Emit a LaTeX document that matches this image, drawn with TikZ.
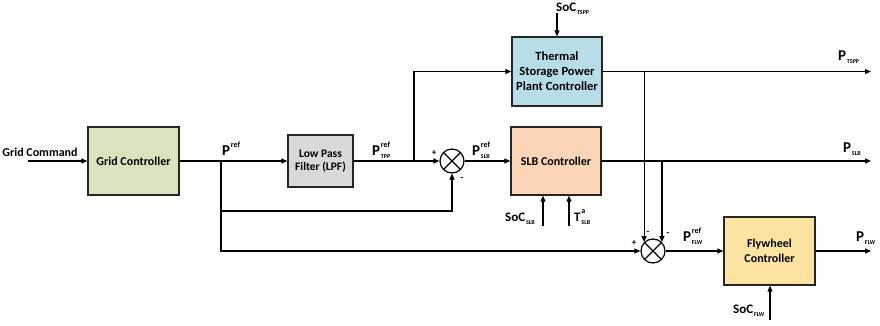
\documentclass[tikz,border=0pt]{standalone}
\usepackage{fontspec}
\setmainfont{Carlito}
\usetikzlibrary{arrows.meta}
\definecolor{gridgreen}{HTML}{D7E4BD}
\definecolor{lpfgray}{HTML}{D9D9D9}
\definecolor{tsppblue}{HTML}{B7DDE8}
\definecolor{slbpeach}{HTML}{FBD5B5}
\definecolor{flwgold}{HTML}{FCE4A0}
\newcommand\Pv[4]{{\fontsize{#4}{#4}\selectfont #1}\hspace{0.8pt}%
  \setbox0\hbox{\fontsize{8}{8}\selectfont #2}\setbox2\hbox{\fontsize{6}{6}\selectfont #3}%
  \rlap{\raisebox{8pt}{\copy0}}\raisebox{-3pt}{\copy2}%
  \ifdim\wd0>\wd2 \hspace{\dimexpr\wd0-\wd2\relax}\fi}
\begin{document}
\begin{tikzpicture}[x=1pt,y=-1pt,
  font=\fontsize{12}{14}\selectfont\bfseries,
  box/.style={draw=black!85, line width=1.4pt, align=center, inner sep=2pt},
  arr/.style={draw=black, line width=1.2pt, -{Triangle[length=6pt,width=5pt]}},
  sumnode/.style={draw=black, line width=1.2pt, circle, minimum size=24pt, inner sep=0pt,
    path picture={\draw[line width=1.2pt] (path picture bounding box.south west) -- (path picture bounding box.north east)
      (path picture bounding box.north west) -- (path picture bounding box.south east);}},
  lbl/.style={inner sep=0pt, anchor=base west},
  sign/.style={inner sep=0pt, font=\fontsize{9}{10}\selectfont\bfseries}]
\useasboundingbox (0,0) rectangle (880,326);
% blocks
\node[box, fill=gridgreen, minimum width=91pt, minimum height=68pt] (grid) at (133.5,161) {Grid Controller};
\node[box, fill=lpfgray, minimum width=65pt, minimum height=52pt, font=\fontsize{11.5}{13.5}\selectfont\bfseries] (lpf) at (320.5,161) {Low Pass\\Filter (LPF)};
\node[box, fill=tsppblue, minimum width=90pt, minimum height=69pt, font=\fontsize{12.5}{15}\selectfont\bfseries] (tspp) at (557,71.5) {Thermal\\Storage Power\\Plant Controller};
\node[box, fill=slbpeach, minimum width=90pt, minimum height=68pt] (slb) at (556,161) {SLB Controller};
\node[box, fill=flwgold, minimum width=91pt, minimum height=68pt, font=\fontsize{12}{15}\selectfont\bfseries] (flw) at (769.5,251) {Flywheel\\Controller};
\node[sumnode] (sum1) at (452,161) {};
\node[sumnode] (sum2) at (653,251) {};
% coordinates
\coordinate (gc) at (28,161);
\coordinate (jP) at (221,161);
\coordinate (jT) at (414,161);
\coordinate (jTo) at (sum2.north west |- tspp.east);
\coordinate (jS) at (sum2.north east |- slb.east);
\coordinate (oT) at (871,71.5);
\coordinate (oS) at (871,161);
\coordinate (oF) at (871,251);
\coordinate (socTin) at (557,13);
\coordinate (socSin) at (543,226);
\coordinate (tSin) at (569,226);
\coordinate (socFin) at (770,320);
% connectors
\draw[arr] (gc) -- (grid.west);
\draw[arr] (grid.east) -- (lpf.west);
\draw[arr] (lpf.east) -- (sum1.west);
\draw[arr] (jT) |- (tspp.west);
\draw[arr] (sum1.east) -- (slb.west);
\draw[arr] (jP) -- ++(0,50) -| (sum1.south);
\draw[arr] (jP) |- (sum2.west);
\draw[arr] (tspp.east) -- (oT);
\draw[arr] (slb.east) -- (oS);
\draw[arr] (jTo) -- (sum2.north west);
\draw[arr] (jS) -- (sum2.north east);
\draw[arr] (sum2.east) -- (flw.west);
\draw[arr] (flw.east) -- (oF);
\draw[arr] (socTin) -- (tspp.north);
\draw[arr] (socSin) -- (socSin |- slb.south);
\draw[arr] (tSin) -- (tSin |- slb.south);
\draw[arr] (socFin) -- (socFin |- flw.south);
\fill (jTo |- slb.east) circle (1.5pt);
% labels
\node[inner sep=0pt] (tgc) at (40,152) {Grid Command};
\node[lbl] (tP) at (222,155) {\Pv{P}{ref}{}{15}};
\node[lbl] (tPT) at (372,155) {\Pv{P}{ref}{TPP}{15}};
\node[lbl] (tPS) at (472,155) {\Pv{P}{ref}{SLB}{15}};
\node[lbl] (tPF) at (683,241) {\Pv{P}{ref}{FLW}{15}};
\node[lbl] (tOT) at (838,61) {\Pv{P}{}{TSPP}{15}};
\node[lbl] (tOS) at (843,152) {\Pv{P}{}{SLB}{15}};
\node[lbl] (tOF) at (856,241) {\Pv{P}{}{FLW}{15}};
\node[lbl] (tsT) at (556,12) {\Pv{SoC}{}{TSPP}{13}};
\node[lbl] (tsS) at (505,221) {\Pv{SoC}{}{SLB}{13}};
\node[lbl] (ttS) at (574,221) {\Pv{T}{a}{SLB}{13}};
\node[lbl] (tsF) at (733,313) {\Pv{SoC}{}{FLW}{13}};
% signs
\node[sign] (s1p) at (434,153) {+};
\node[sign] (s1m) at (462,179) {-};
\node[sign] (s2p) at (634,243) {+};
\node[sign] (s2m1) at (648,233) {-};
\node[sign] (s2m2) at (668,234) {-};
\end{tikzpicture}
\end{document}
